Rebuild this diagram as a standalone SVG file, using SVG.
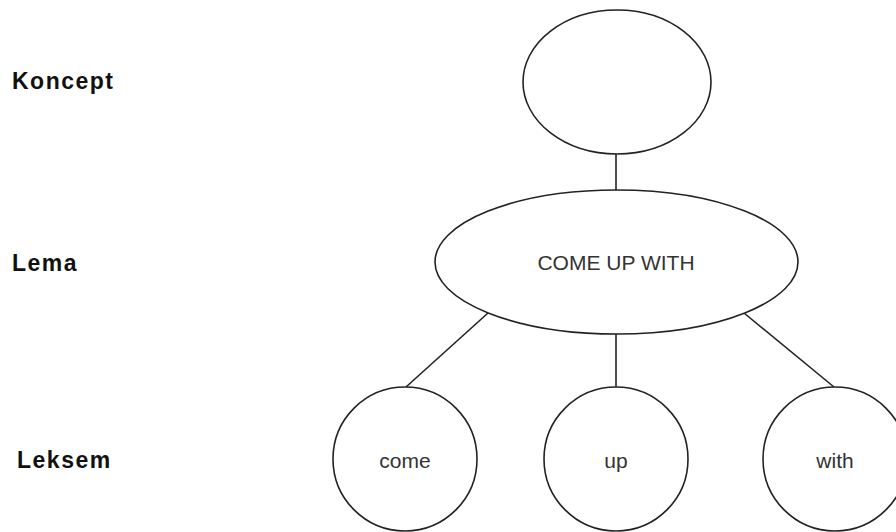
<svg xmlns="http://www.w3.org/2000/svg" width="896" height="532" viewBox="0 0 896 532">
<style>
.shape{fill:#ffffff;stroke:#222222;stroke-width:1.6}
.conn{stroke:#222222;stroke-width:1.6;fill:none}
.lbl{font-family:"Liberation Sans",Arial,sans-serif;font-weight:bold;font-size:23px;letter-spacing:1.5px;fill:#111111}
.txt{font-family:"Liberation Sans",Arial,sans-serif;font-size:21px;fill:#333333;text-anchor:middle}
</style>
<rect width="896" height="532" fill="#ffffff"/>
<text class="lbl" x="12" y="89">Koncept</text>
<text class="lbl" x="12" y="271">Lema</text>
<text class="lbl" x="17" y="468">Leksem</text>
<g id="connectors">
<line class="conn" x1="616" y1="154" x2="616" y2="190"/>
<line class="conn" x1="488" y1="313" x2="406" y2="387"/>
<line class="conn" x1="616" y1="334" x2="616" y2="387"/>
<line class="conn" x1="744" y1="313" x2="834" y2="387"/>
</g>
<g id="koncept"><ellipse class="shape" cx="617" cy="82" rx="94" ry="72"/></g>
<g id="lema"><ellipse class="shape" cx="616.5" cy="262" rx="181.5" ry="72"/><text class="txt" x="616" y="270">COME UP WITH</text></g>
<g id="come"><circle class="shape" cx="405" cy="459" r="72"/><text class="txt" x="405" y="468">come</text></g>
<g id="up"><circle class="shape" cx="616" cy="459" r="72"/><text class="txt" x="616" y="468">up</text></g>
<g id="with"><circle class="shape" cx="835" cy="459" r="72"/><text class="txt" x="835" y="468">with</text></g>
</svg>
